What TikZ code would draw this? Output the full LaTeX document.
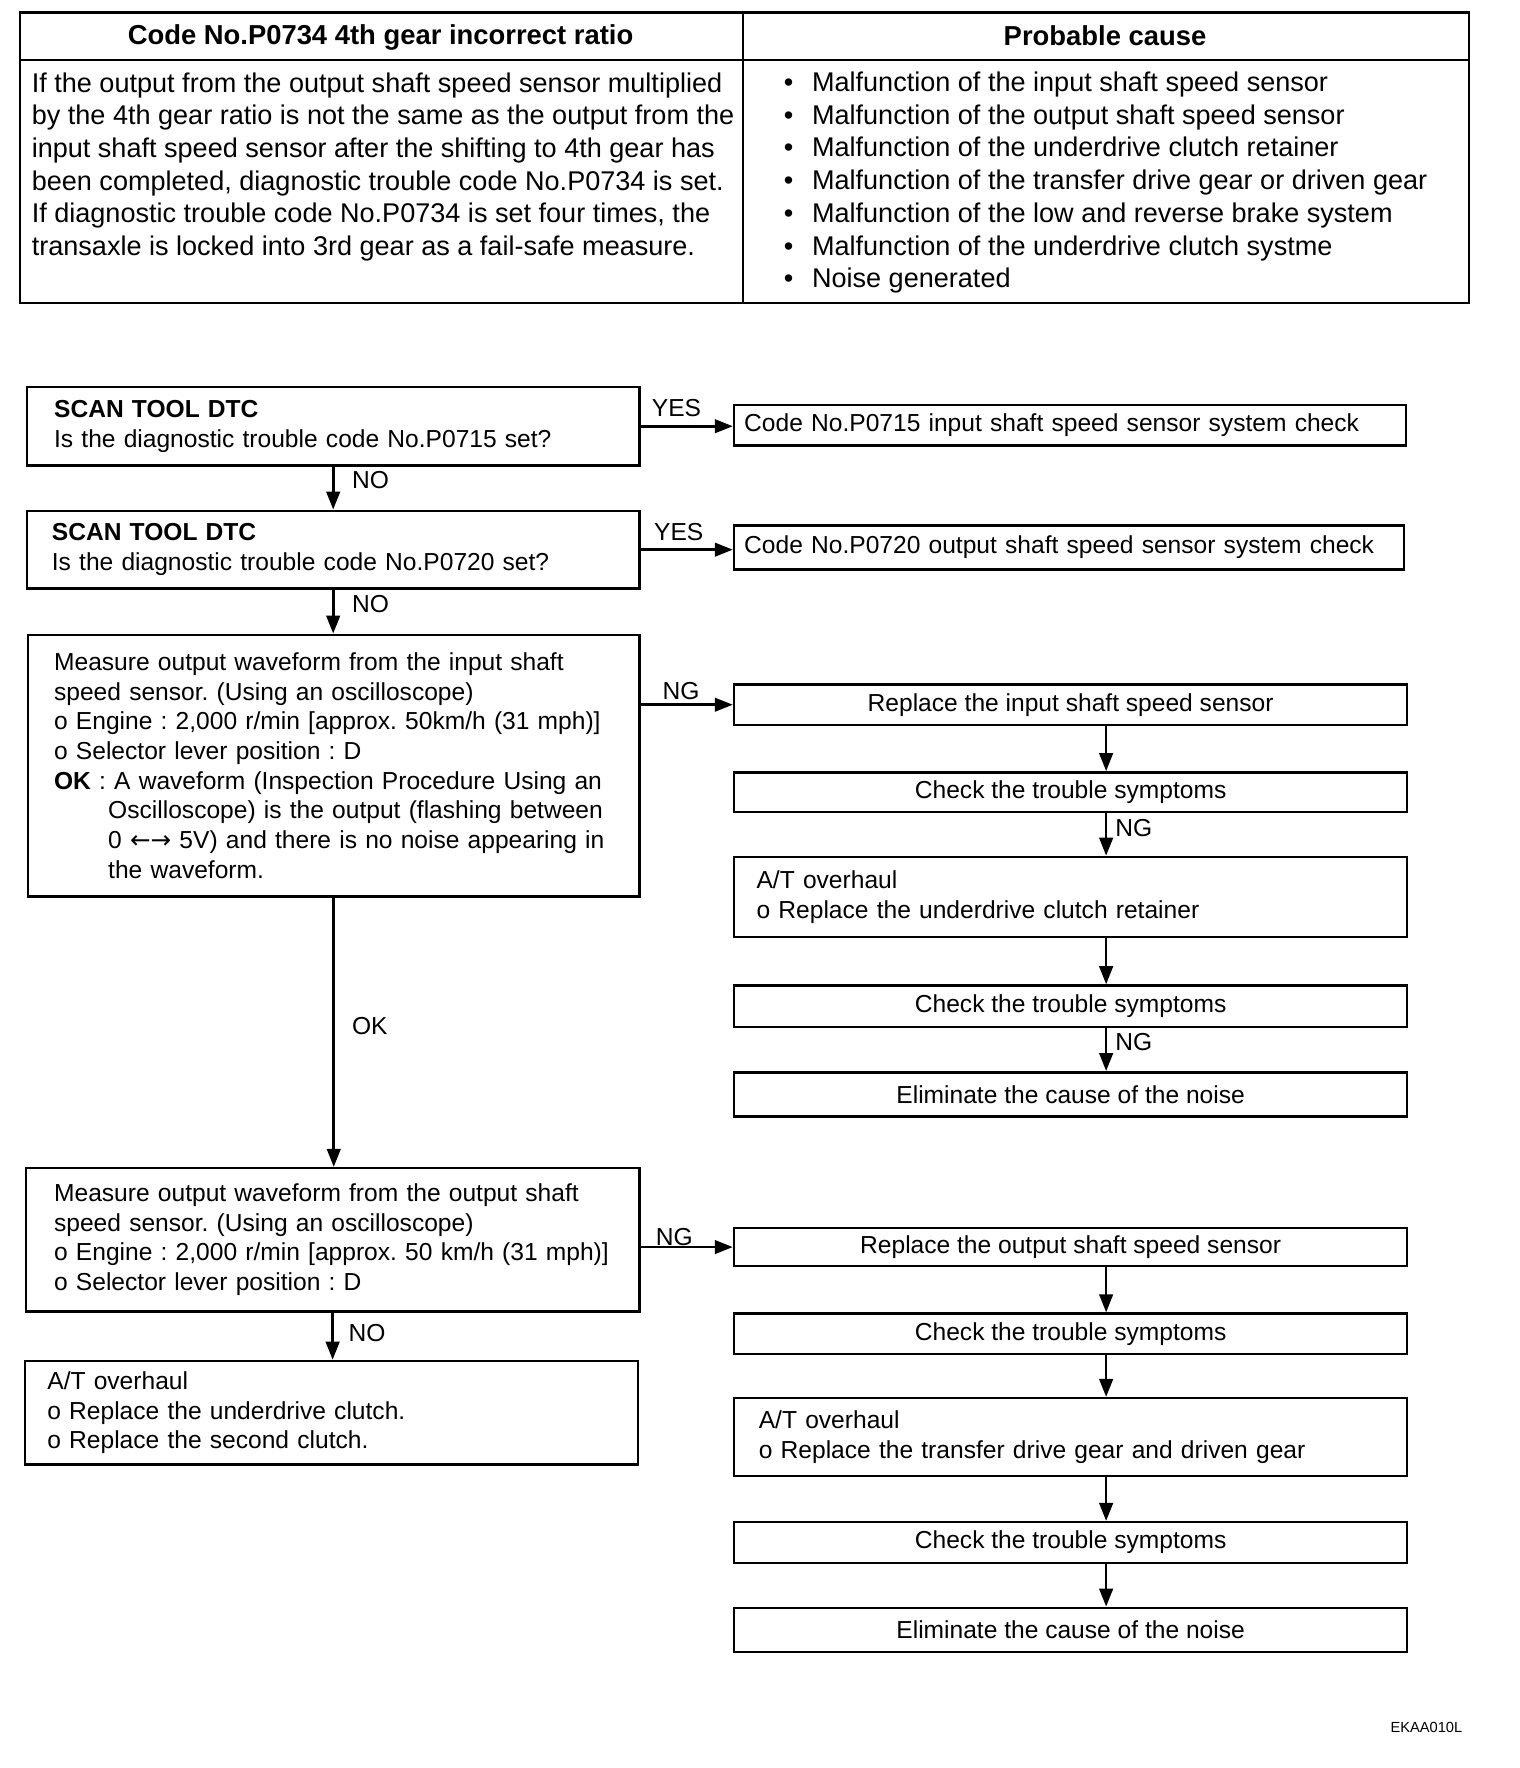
\documentclass[tikz,border=0pt]{standalone}
\usepackage{fontspec}
\setmainfont{Liberation Sans}
\newfontfamily\dejavu{DejaVu Sans}
\usetikzlibrary{arrows.meta}
\frenchspacing
\begin{document}
\begin{tikzpicture}[x=1pt,y=-1pt,
  flow/.style={font=\fontsize{21.8}{26.3}\selectfont},
  tab/.style={font=\fontsize{24}{29}\selectfont},
  tabb/.style={font=\fontsize{24.3}{29}\selectfont\bfseries},
  cell/.style={draw, line width=2pt, rectangle, inner sep=0pt, anchor=north west},
  boxc/.style={draw, line width=2.2pt, rectangle, inner sep=0pt, flow, align=center},
  boxl/.style={draw, line width=2.2pt, rectangle, flow, align=left, inner ysep=0pt},
  arr/.style={line width=2.4pt, -{Triangle[length=16pt,width=12pt]}},
  lbl/.style={flow, inner sep=0pt},
]
\useasboundingbox (0,0) rectangle (1348,1568);

% ---------- table ----------
\node[cell, minimum width=641pt, minimum height=42pt] (h1) at (17,10) {};
\node[cell, minimum width=644pt, minimum height=42pt] (h2) at (658,10) {};
\node[cell, minimum width=641pt, minimum height=216pt] (b1) at (17,52) {};
\node[cell, minimum width=644pt, minimum height=216pt] (b2) at (658,52) {};
\node[tabb, inner sep=0pt] (h1t) at (337.5,33) {Code No.P0734 4th gear incorrect ratio};
\node[tabb, inner sep=0pt] (h2t) at (980,32) {Probable cause};
\node[tab, inner sep=0pt, anchor=west, align=left] (b1t) at (28,148) {If the output from the output shaft speed sensor multiplied\\
by the 4th gear ratio is not the same as the output from the\\
input shaft speed sensor after the shifting to 4th gear has\\
been completed, diagnostic trouble code No.P0734 is set.\\
If diagnostic trouble code No.P0734 is set four times, the\\
transaxle is locked into 3rd gear as a fail-safe measure.};
\node[tab, inner sep=0pt, anchor=west, align=left] (b2t) at (695,162) {\makebox[25pt][l]{\textbullet}Malfunction of the input shaft speed sensor\\
\makebox[25pt][l]{\textbullet}Malfunction of the output shaft speed sensor\\
\makebox[25pt][l]{\textbullet}Malfunction of the underdrive clutch retainer\\
\makebox[25pt][l]{\textbullet}Malfunction of the transfer drive gear or driven gear\\
\makebox[25pt][l]{\textbullet}Malfunction of the low and reverse brake system\\
\makebox[25pt][l]{\textbullet}Malfunction of the underdrive clutch systme\\
\makebox[25pt][l]{\textbullet}Noise generated};

% ---------- left column ----------
\node[boxl, minimum width=543pt, minimum height=70pt, inner xsep=24pt, text width=495pt] (a1) at (295.5,378)
 {\textbf{SCAN TOOL DTC}\\Is the diagnostic trouble code No.P0715 set?};
\node[boxl, minimum width=543pt, minimum height=69pt, inner xsep=22pt, text width=499pt] (a2) at (295.5,487.5)
 {\textbf{SCAN TOOL DTC}\\Is the diagnostic trouble code No.P0720 set?};
\node[boxl, minimum width=542pt, minimum height=232pt, inner xsep=23pt, text width=496pt] (a3) at (296,679)
 {Measure output waveform from the input shaft\\
speed sensor. (Using an oscilloscope)\\
o Engine : 2,000 r/min [approx. 50km/h (31 mph)]\\
o Selector lever position : D\\
\textbf{OK} : A waveform (Inspection Procedure Using an\\
\hspace*{48pt}Oscilloscope) is the output (flashing between\\
\hspace*{48pt}0 {\dejavu ←→} 5V) and there is no noise appearing in\\
\hspace*{48pt}the waveform.};
\node[boxl, minimum width=544pt, minimum height=127pt, inner xsep=25pt, text width=494pt] (a4) at (295,1099.5)
 {Measure output waveform from the output shaft\\
speed sensor. (Using an oscilloscope)\\
o Engine : 2,000 r/min [approx. 50 km/h (31 mph)]\\
o Selector lever position : D};
\node[boxl, minimum width=544pt, minimum height=92pt, inner xsep=20pt, text width=504pt] (a5) at (294,1253)
 {A/T overhaul\\
o Replace the underdrive clutch.\\
o Replace the second clutch.};

% ---------- right column ----------
\node[boxl, minimum width=596pt, minimum height=36pt, inner xsep=9pt, text width=578pt] (b1x) at (949,377)
 {Code No.P0715 input shaft speed sensor system check};
\node[boxl, minimum width=594pt, minimum height=39pt, inner xsep=9pt, text width=576pt] (b2x) at (948,485.5)
 {Code No.P0720 output shaft speed sensor system check};

\node[boxc, minimum width=597pt, minimum height=36pt] (c1) at (949.5,625) {Replace the input shaft speed sensor};
\node[boxc, minimum width=597pt, minimum height=35pt] (c2) at (949.5,702.5) {Check the trouble symptoms};
\node[boxl, minimum width=597pt, minimum height=71pt, inner xsep=20pt, text width=557pt] (c3) at (949.5,795.5)
 {A/T overhaul\\o Replace the underdrive clutch retainer};
\node[boxc, minimum width=597pt, minimum height=37pt] (c4) at (949.5,892.5) {Check the trouble symptoms};
\node[boxc, minimum width=597pt, minimum height=39pt] (c5) at (949.5,970.5) {Eliminate the cause of the noise};

\node[boxc, minimum width=597pt, minimum height=34pt] (d1) at (949.5,1106) {Replace the output shaft speed sensor};
\node[boxc, minimum width=597pt, minimum height=36pt] (d2) at (949.5,1183) {Check the trouble symptoms};
\node[boxl, minimum width=597pt, minimum height=69pt, inner xsep=22pt, text width=553pt] (d3) at (949.5,1274.5)
 {A/T overhaul\\o Replace the transfer drive gear and driven gear};
\node[boxc, minimum width=597pt, minimum height=36pt] (d4) at (949.5,1368) {Check the trouble symptoms};
\node[boxc, minimum width=597pt, minimum height=39pt] (d5) at (949.5,1445.5) {Eliminate the cause of the noise};

\coordinate (rx) at (981,0);

% ---------- connectors ----------
\draw[arr] (a1.east) -- (a1.east -| b1x.west);
\draw[arr] (a2.east) -- (a2.east -| b2x.west);
\draw[arr] (c1.west -| a3.east) -- (c1.west);
\draw[arr] (d1.west -| a4.east) -- (d1.west);

\draw[arr] (a1.south) -- (a1.south |- a2.north);
\draw[arr] (a2.south) -- (a2.south |- a3.north);
\draw[arr] (a3.south) -- (a3.south |- a4.north);
\draw[arr] (a4.south) -- (a4.south |- a5.north);

\draw[arr] (c1.south -| rx) -- (c2.north -| rx);
\draw[arr] (c2.south -| rx) -- (c3.north -| rx);
\draw[arr] (c3.south -| rx) -- (c4.north -| rx);
\draw[arr] (c4.south -| rx) -- (c5.north -| rx);
\draw[arr] (d1.south -| rx) -- (d2.north -| rx);
\draw[arr] (d2.south -| rx) -- (d3.north -| rx);
\draw[arr] (d3.south -| rx) -- (d4.north -| rx);
\draw[arr] (d4.south -| rx) -- (d5.north -| rx);

% ---------- labels ----------
\node[lbl] (lyes1) at (600,362) {YES};
\node[lbl] (lyes2) at (602,472) {YES};
\node[lbl] (lng1) at (604,613) {NG};
\node[lbl] (lng2) at (598,1097) {NG};
\node[lbl, anchor=west] (lno1) at (312,426) {NO};
\node[lbl, anchor=west] (lno2) at (312,536) {NO};
\node[lbl, anchor=west] (lok) at (312,910) {OK};
\node[lbl, anchor=west] (lno3) at (309,1182) {NO};
\node[lbl, anchor=west] (lng3) at (989,734) {NG};
\node[lbl, anchor=west] (lng4) at (989,924) {NG};

\node[font=\fontsize{13}{15}\selectfont, inner sep=0pt] (code) at (1265,1532) {EKAA010L};
\end{tikzpicture}
\end{document}
